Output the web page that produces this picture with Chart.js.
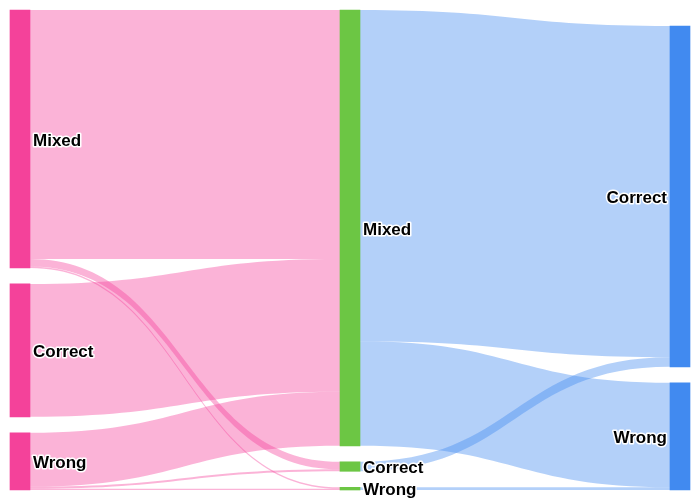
<!DOCTYPE html>
<html><head><meta charset="utf-8">
<script src="https://cdn.jsdelivr.net/npm/chart.js@4"></script>
<style>html,body{margin:0;padding:0;background:#fff}</style>
</head><body>
<canvas id="c" width="700" height="500"></canvas>
<script>
// ---- data ----
const columnNames = ['Stage 1', 'Stage 2', 'Stage 3'];
const nodeLabels = ['Mixed', 'Correct', 'Wrong', 'Mixed', 'Correct', 'Wrong', 'Correct', 'Wrong'];
const nodeColumns = [0, 0, 0, 1, 1, 1, 2, 2];
const linkSource = [0, 0, 0, 1, 2, 2, 2, 3, 3, 4, 5];
const linkTarget = [3, 4, 5, 3, 3, 4, 5, 6, 7, 6, 7];
const linkValue  = [249, 7.5, 1.5, 133, 54, 2, 1.2, 331.5, 104.5, 9.5, 2.7];

// ---- style ----
const columnColors = ['#F4429A', '#6CC644', '#418AF0'];
const flowAlpha = 0.4;
const nodeWidth = 20;

// ---- layout (value units) ----
const n = nodeLabels.length;
const nIn = new Array(n).fill(0), nOut = new Array(n).fill(0);
linkValue.forEach((v, i) => { nOut[linkSource[i]] += v; nIn[linkTarget[i]] += v; });
const nodeValue = nIn.map((v, i) => Math.max(v, nOut[i]));
const nCols = columnNames.length;
const colTotals = new Array(nCols).fill(0);
nodeValue.forEach((v, i) => colTotals[nodeColumns[i]] += v);
const T = Math.max(...colTotals);
const H = T * 15 / 14;
const G = H / 30;
const nodeY0 = new Array(n), nodeY1 = new Array(n), nodeRank = new Array(n);
for (let c = 0; c < nCols; c++) {
  const ids = nodeLabels.map((_, i) => i).filter(i => nodeColumns[i] === c);
  let y = c === nCols - 1 ? H - colTotals[c] - (ids.length - 1) * G : 0;
  ids.forEach((i, r) => { nodeY0[i] = y; nodeY1[i] = y + nodeValue[i]; nodeRank[i] = r; y += nodeValue[i] + G; });
}
// link offsets
const linkSY = new Array(linkValue.length), linkTY = new Array(linkValue.length);
for (let i = 0; i < n; i++) {
  const outs = linkValue.map((_, k) => k).filter(k => linkSource[k] === i).sort((a, b) => nodeY0[linkTarget[a]] - nodeY0[linkTarget[b]]);
  let y = nodeY0[i];
  outs.forEach(k => { linkSY[k] = y; y += linkValue[k]; });
  const ins = linkValue.map((_, k) => k).filter(k => linkTarget[k] === i).sort((a, b) => nodeY0[linkSource[a]] - nodeY0[linkSource[b]]);
  y = nodeY0[i];
  ins.forEach(k => { linkTY[k] = y; y += linkValue[k]; });
}

function hexA(hex, a) {
  const r = parseInt(hex.slice(1, 3), 16), g = parseInt(hex.slice(3, 5), 16), b = parseInt(hex.slice(5, 7), 16);
  return `rgba(${r},${g},${b},${a})`;
}

// node datasets: one per rank in column
const maxRank = Math.max(...nodeRank) + 1;
const datasets = [];
for (let r = 0; r < maxRank; r++) {
  const data = [];
  for (let c = 0; c < nCols; c++) {
    const i = nodeLabels.findIndex((_, k) => nodeColumns[k] === c && nodeRank[k] === r);
    data.push(i >= 0 ? [nodeY0[i], nodeY1[i]] : null);
  }
  datasets.push({ data, backgroundColor: columnColors, borderWidth: 0, barThickness: nodeWidth, grouped: false, clip: false });
}

const flowPlugin = {
  id: 'flows',
  beforeDatasetsDraw(chart) {
    const ctx = chart.ctx, xs = chart.scales.x, ys = chart.scales.y;
    ctx.save();
    linkValue.forEach((v, k) => {
      const s = linkSource[k], t = linkTarget[k];
      const x0 = xs.getPixelForValue(nodeColumns[s]) + nodeWidth / 2;
      const x1 = xs.getPixelForValue(nodeColumns[t]) - nodeWidth / 2;
      const xm = (x0 + x1) / 2;
      const a0 = ys.getPixelForValue(linkSY[k]), a1 = ys.getPixelForValue(linkSY[k] + v);
      const b0 = ys.getPixelForValue(linkTY[k]), b1 = ys.getPixelForValue(linkTY[k] + v);
      const col = nodeColumns[s] === 0 ? columnColors[nodeColumns[s]] : columnColors[nodeColumns[t]];
      ctx.beginPath();
      ctx.moveTo(x0, a0);
      ctx.bezierCurveTo(xm, a0, xm, b0, x1, b0);
      ctx.lineTo(x1, b1);
      ctx.bezierCurveTo(xm, b1, xm, a1, x0, a1);
      ctx.closePath();
      ctx.fillStyle = hexA(col, flowAlpha);
      ctx.fill();
    });
    ctx.restore();
  },
  afterDatasetsDraw(chart) {
    const ctx = chart.ctx, xs = chart.scales.x, ys = chart.scales.y;
    ctx.save();
    ctx.font = 'bold 17px "Liberation Sans", Arial, sans-serif';
    ctx.textBaseline = 'middle';
    ctx.lineJoin = 'round';
    ctx.lineWidth = 3;
    ctx.strokeStyle = '#fff';
    ctx.fillStyle = '#000';
    for (let i = 0; i < n; i++) {
      const c = nodeColumns[i];
      const xc = xs.getPixelForValue(c);
      const yc = (ys.getPixelForValue(nodeY0[i]) + ys.getPixelForValue(nodeY1[i])) / 2;
      let x;
      if (c === nCols - 1) { ctx.textAlign = 'right'; x = xc - nodeWidth / 2 - 3; }
      else { ctx.textAlign = 'left'; x = xc + nodeWidth / 2 + 3; }
      ctx.strokeText(nodeLabels[i], x, yc + 2);
      ctx.fillText(nodeLabels[i], x, yc + 2);
    }
    ctx.restore();
  }
};

new Chart(document.getElementById('c'), {
  type: 'bar',
  data: { labels: columnNames, datasets },
  options: {
    responsive: false,
    animation: false,
    layout: { padding: { left: 20, right: 20, top: 10, bottom: 10 } },
    plugins: { legend: { display: false }, tooltip: { enabled: false } },
    scales: {
      x: { type: 'category', offset: false, display: false },
      y: { type: 'linear', min: 0, max: H, reverse: true, display: false }
    }
  },
  plugins: [flowPlugin]
});
</script>
</body></html>
